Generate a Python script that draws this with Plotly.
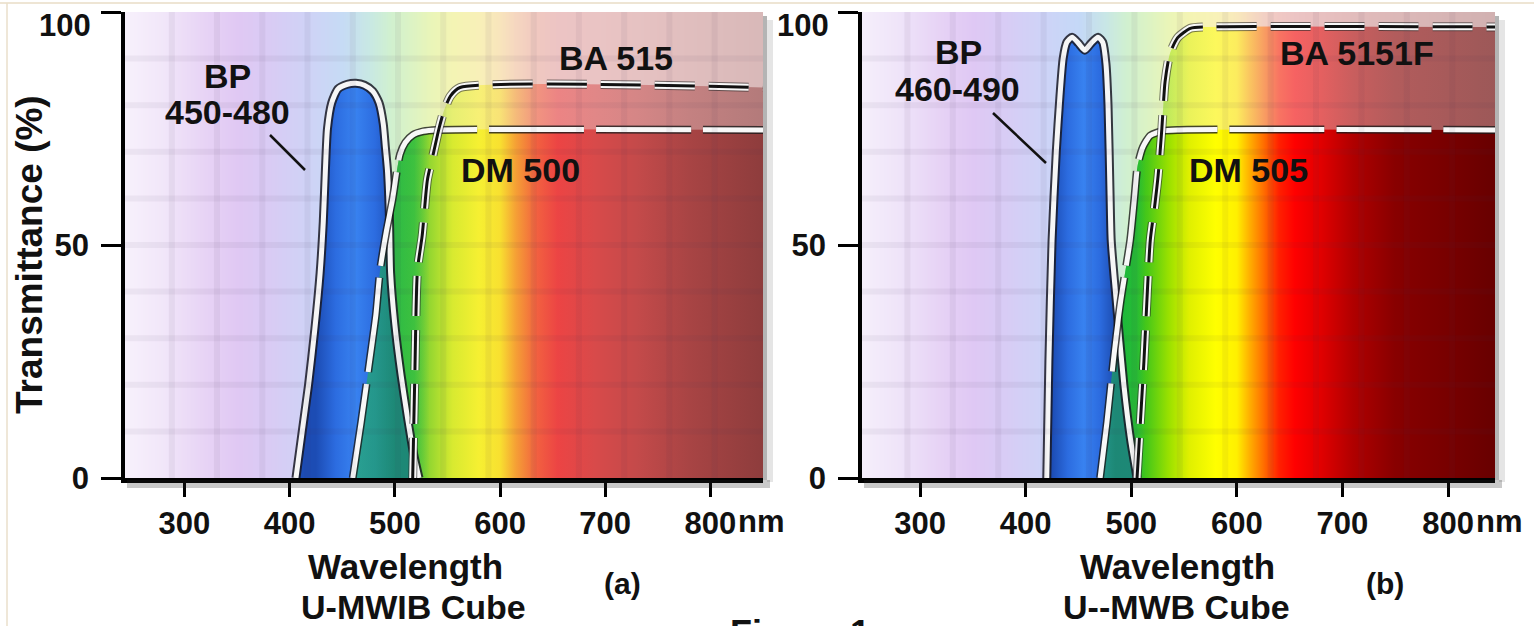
import numpy as np
import plotly.graph_objects as go

W, H = 1534, 626
HEFF = 608  # vertical extent that paper coordinates map onto in the rendered page
FONT = "Arial, Liberation Sans, sans-serif"

# ---------------- data ----------------
# Panel (a) U-MWIB cube
bp_a_nm = [406, 412, 418, 424, 429, 432, 434, 436, 440, 446, 455, 463, 471, 479, 485, 489, 491, 493, 495, 496, 500, 506, 512, 518, 523]
bp_a_t = [0, 10, 20, 32, 44, 55, 66, 75, 80.5, 83.5, 84.5, 84.7, 84.3, 83, 80.5, 76, 71, 66, 55, 44, 33, 22, 13, 5, 0]
dm_a_nm = [460, 468, 476, 482, 486, 492, 498, 502, 505, 510, 517, 527, 540, 850]
dm_a_t = [0, 12, 25, 35, 44.6, 53, 60, 66, 69.5, 72, 73.6, 74.4, 74.7, 74.7]
ba_a_nm = [517, 519, 521.5, 526, 531, 537, 542, 547, 553, 562, 850]
ba_a_t = [0, 22, 44.6, 52, 64, 70, 75, 79, 82, 83.8, 83.8]

# Panel (b) U-MWB cube
bp_b_nm = [420, 422, 425, 429, 432.5, 435.5, 439, 444, 450, 456, 462, 468.5, 473, 476, 478, 480, 481, 485, 493, 499.5, 505.5]
bp_b_t = [0, 25, 51, 70, 82, 90, 93.5, 94.6, 93.3, 91.8, 93.3, 94.6, 93.5, 89, 80, 60, 51, 40, 20, 8, 0]
dm_b_nm = [470.5, 477, 483, 490, 499, 503, 506, 511, 518, 530, 545, 845]
dm_b_t = [0, 12, 25, 38, 51, 60, 67, 71, 73.5, 74.5, 74.7, 74.7]
ba_b_nm = [505.5, 512, 518, 522, 525.5, 529, 532, 536.5, 544, 556, 570, 845]
ba_b_t = [0, 25, 51, 58, 65, 75, 85, 91, 94.5, 96.5, 96.8, 96.8]

x_ticks = [300, 400, 500, 600, 700, 800]
x_ticktext = ["300", "400", "500", "600", "700", "800"]
y_ticks = [0, 50, 100]

# spectrum colour stops (decoration)
spec_nm_a = [240, 280, 320, 350, 380, 420, 450, 475, 495, 515, 535, 555, 580, 600, 615, 635, 655, 690, 730, 780, 855]
pale_a = ["#f8f2fc", "#f1e6f9", "#e7d3f5", "#e0c8f3", "#d9cbf4", "#ced3f6", "#c6dbf5", "#c8e8e4", "#d0f0d0",
          "#dcf3c4", "#eaf5b8", "#f4f4b4", "#f8f0b8", "#f8e4bc", "#f5d6c0", "#f0c8c0", "#ecc4c4", "#eac4c4",
          "#e6c2c2", "#e0bebe", "#d8b8b8"]
sat_a = ["#c8b0e8", "#b898e0", "#9a80d8", "#8070d0", "#6060d0", "#4050d0", "#2090c0", "#20a890", "#38b848",
         "#5cc838", "#9ad830", "#d8ea30", "#f6f032", "#f8e030", "#f5a035", "#f26040", "#ec4444", "#d84a4a",
         "#c44a4a", "#a84444", "#8c3c3c"]
spec_nm_b = [240, 280, 320, 350, 380, 420, 450, 475, 495, 515, 535, 555, 580, 600, 612, 625, 640, 655, 680, 710, 750, 800, 855]
pale_b = ["#f6f0fb", "#efe4f9", "#e6d2f5", "#dfc8f4", "#d8ccf5", "#cdd4f7", "#c4d8f7", "#c8e6e6", "#d0f0d0",
          "#dcf3c4", "#eaf5b8", "#f4f4b4", "#f8f2b8", "#f8e8bc", "#f6dcc0", "#f2d0c4", "#f0c8c4", "#ecc4c4",
          "#e8c0c0", "#e2bcbc", "#dcb8b8", "#d6b4b4", "#d0b0b0"]
sat_b = ["#c8b0e8", "#b898e0", "#9a80d8", "#8070d0", "#6060d0", "#4050d0", "#1890c0", "#18a860", "#20b828",
         "#48c818", "#98e000", "#e0f000", "#ffff00", "#fff000", "#ffb000", "#ff7000", "#ff2000", "#ff0000",
         "#e00000", "#b00000", "#880000", "#780000", "#640000"]


def rgb(h):
    h = h.lstrip("#")
    return [int(h[i:i + 2], 16) for i in (0, 2, 4)]


def blend(c1, c2, t):
    a, b = rgb(c1), rgb(c2)
    return "rgb(%d,%d,%d)" % tuple(round(a[i] * (1 - t) + b[i] * t) for i in range(3))


def cscale(nms, cols):
    lo, hi = nms[0], nms[-1]
    return [[(n - lo) / (hi - lo), c] for n, c in zip(nms, cols)]


def px2x(px):
    return px / W


def px2y(py):
    return 1 - py / HEFF


fig = go.Figure()

panels = [
    dict(xa="x", ya="y", nm=spec_nm_a, pale=pale_a, sat=sat_a, rng=[243.5, 850],
         bp=(bp_a_nm, bp_a_t), dm=(dm_a_nm, dm_a_t), ba=(ba_a_nm, ba_a_t), green_end=533,
         bpgrad=(425, 500)),
    dict(xa="x2", ya="y2", nm=spec_nm_b, pale=pale_b, sat=sat_b, rng=[245, 844.5],
         bp=(bp_b_nm, bp_b_t), dm=(dm_b_nm, dm_b_t), ba=(ba_b_nm, ba_b_t), green_end=514,
         bpgrad=(425, 485)),
]

shapes = []
SPL = dict(shape="spline", smoothing=0.6)
for p in panels:
    nms = p["nm"]
    lo, hi = nms[0], nms[-1]
    mid = [blend(a, b, 0.5) for a, b in zip(p["pale"], p["sat"])]
    xs = np.linspace(lo, hi, 500)
    fig.add_trace(go.Heatmap(x=xs, y=[0, 100], z=[xs, xs], zmin=lo, zmax=hi, zsmooth="best",
                             colorscale=cscale(nms, p["pale"]), showscale=False, hoverinfo="skip",
                             xaxis=p["xa"], yaxis=p["ya"]))
    common = dict(mode="lines", line=dict(width=0, **SPL), fill="tozeroy",
                  hoverinfo="skip", showlegend=False, xaxis=p["xa"], yaxis=p["ya"])
    # BA fill (medium saturation)
    fig.add_trace(go.Scatter(x=p["ba"][0], y=p["ba"][1],
                             fillgradient=dict(type="horizontal", colorscale=cscale(nms, mid), start=lo, stop=hi),
                             **common))
    # DM fill (saturated)
    fig.add_trace(go.Scatter(x=p["dm"][0], y=p["dm"][1],
                             fillgradient=dict(type="horizontal", colorscale=cscale(nms, p["sat"]), start=lo, stop=hi),
                             **common))
    # BP fill (blue)
    g0, g1 = p["bpgrad"]
    fig.add_trace(go.Scatter(x=p["bp"][0], y=p["bp"][1],
                             fillgradient=dict(type="horizontal",
                                               colorscale=[[0, "#1c4cb4"], [0.25, "#2c6ce0"], [0.5, "#3882f0"],
                                                           [0.75, "#2c6ce0"], [1, "#1c4cb0"]],
                                               start=g0, stop=g1),
                             **common))
    # green veil over BP/DM overlap -> teal
    fig.add_trace(go.Scatter(x=p["dm"][0], y=p["dm"][1],
                             fillgradient=dict(type="horizontal",
                                               colorscale=[[0, "rgba(30,185,70,0.55)"], [0.8, "rgba(30,185,70,0.55)"],
                                                           [1, "rgba(30,185,70,0)"]],
                                               start=p["dm"][0][0], stop=p["green_end"]),
                             **common))
    lc = dict(mode="lines", hoverinfo="skip", showlegend=False, xaxis=p["xa"], yaxis=p["ya"])
    # BP outline
    fig.add_trace(go.Scatter(x=p["bp"][0], y=p["bp"][1],
                             line=dict(color="rgba(25,25,35,0.85)", width=9, **SPL), **lc))
    fig.add_trace(go.Scatter(x=p["bp"][0], y=p["bp"][1],
                             line=dict(color="#f6f6f6", width=5, **SPL), **lc))
    # DM outline (white dashes)
    fig.add_trace(go.Scatter(x=p["dm"][0], y=p["dm"][1],
                             line=dict(color="rgba(25,25,25,0.8)", width=8, dash="95px,12px", **SPL), **lc))
    fig.add_trace(go.Scatter(x=p["dm"][0], y=p["dm"][1],
                             line=dict(color="#f8f8f8", width=5, dash="95px,12px", **SPL), **lc))
    # BA outline (black dashes on white)
    fig.add_trace(go.Scatter(x=p["ba"][0], y=p["ba"][1],
                             line=dict(color="rgba(40,40,40,0.6)", width=9, dash="40px,14px", **SPL), **lc))
    fig.add_trace(go.Scatter(x=p["ba"][0], y=p["ba"][1],
                             line=dict(color="#f8f8f8", width=7, dash="40px,14px", **SPL), **lc))
    fig.add_trace(go.Scatter(x=p["ba"][0], y=p["ba"][1],
                             line=dict(color="#111111", width=3, dash="40px,14px", **SPL), **lc))
    # faint grid
    for gy in range(10, 100, 10):
        shapes.append(dict(type="line", xref=p["xa"], yref=p["ya"], x0=p["rng"][0], x1=p["rng"][1], y0=gy, y1=gy,
                           line=dict(color="rgba(70,50,90,0.06)", width=6), layer="above"))
    gx = 288
    while gx < p["rng"][1] - 5:
        shapes.append(dict(type="line", xref=p["xa"], yref=p["ya"], x0=gx, x1=gx, y0=0, y1=100,
                           line=dict(color="rgba(70,50,90,0.06)", width=6), layer="above"))
        gx += 43

axis_font = dict(family=FONT, size=31, color="#111111", weight="bold")
xcommon = dict(tickvals=x_ticks, ticktext=x_ticktext, ticks="outside", ticklen=14, tickwidth=3, tickcolor="#000",
               showline=True, linewidth=5, linecolor="#000", showgrid=False, zeroline=False, tickfont=axis_font,
               ticklabelstandoff=0, fixedrange=True)
ycommon = dict(range=[0, 100], tickvals=y_ticks, ticktext=["0", "50", ""], ticks="outside", ticklen=20, tickwidth=3,
               tickcolor="#000", showline=True, linewidth=3.5, linecolor="#000", showgrid=False, zeroline=False,
               tickfont=axis_font, ticklabelstandoff=6, domain=[px2y(478), px2y(12)], fixedrange=True)

ann = []


def text(t, px, py, size, xanchor="center", yanchor="middle", angle=0):
    ann.append(dict(text=t, x=px2x(px), y=px2y(py), xref="paper", yref="paper", showarrow=False,
                    xanchor=xanchor, yanchor=yanchor, textangle=angle,
                    font=dict(family=FONT, size=size, color="#111111", weight="bold")))


text("Transmittance (%)", 30, 255, 37, angle=-90)
text("100", 93, 26, 31, xanchor="right")
text("100", 831, 26, 31, xanchor="right")
text("nm", 736, 521, 31, xanchor="left")
text("nm", 1474, 521, 31, xanchor="left")
text("Wavelength", 406, 566, 35)
text("U-MWIB Cube", 414, 607, 34)
text("(a)", 622, 583, 30)
text("Wavelength", 1177, 566, 35)
text("U--MWB Cube", 1176, 607, 34)
text("(b)", 1385, 583, 30)
text("Figure 1", 800, 611, 36, yanchor="top")
text("BP", 228, 76, 34)
text("450-480", 227, 112, 34)
text("BA 515", 616, 58, 34)
text("DM 500", 520, 170, 34)
text("BP", 958, 52, 34)
text("460-490", 957, 89, 34)
text("BA 5151F", 1357, 53, 34)
text("DM 505", 1248, 170, 34)

# leader lines
for (x0, y0, x1, y1) in [(270, 135, 305, 170), (993, 113, 1046, 163)]:
    shapes.append(dict(type="line", xref="paper", yref="paper", x0=px2x(x0), y0=px2y(y0), x1=px2x(x1), y1=px2y(y1),
                       line=dict(color="#111", width=2.5)))
# panel shadows
for (r0, r1) in [(763, 773), (1495, 1505)]:
    shapes.append(dict(type="rect", xref="paper", yref="paper", x0=px2x(r0), x1=px2x(r0 + 4), y0=px2y(480),
                       y1=px2y(16), line=dict(width=0), fillcolor="rgba(40,40,40,0.35)"))
    shapes.append(dict(type="rect", xref="paper", yref="paper", x0=px2x(r0 + 4), x1=px2x(r1), y0=px2y(482),
                       y1=px2y(20), line=dict(width=0), fillcolor="rgba(40,40,40,0.12)"))
for (a0, a1) in [(127, 770), (864, 1502)]:
    shapes.append(dict(type="rect", xref="paper", yref="paper", x0=px2x(a0), x1=px2x(a1), y0=px2y(488),
                       y1=px2y(480), line=dict(width=0), fillcolor="rgba(40,40,40,0.25)"))
# thin beige frame of the original picture
shapes.append(dict(type="line", xref="paper", yref="paper", x0=0, x1=1, y0=px2y(3), y1=px2y(3),
                   line=dict(color="#e8dcc6", width=1.5)))
shapes.append(dict(type="line", xref="paper", yref="paper", x0=px2x(7), x1=px2x(7), y0=px2y(626), y1=px2y(3),
                   line=dict(color="#eadfcb", width=1.5)))

fig.update_layout(
    width=W, height=H, margin=dict(l=0, r=0, t=0, b=0), paper_bgcolor="white", plot_bgcolor="white",
    showlegend=False,
    xaxis=dict(domain=[px2x(125), px2x(763)], range=panels[0]["rng"], anchor="y", **xcommon),
    yaxis=dict(anchor="x", **ycommon),
    xaxis2=dict(domain=[px2x(862), px2x(1495)], range=panels[1]["rng"], anchor="y2", **xcommon),
    yaxis2=dict(anchor="x2", **ycommon),
    annotations=ann, shapes=shapes,
)

fig.write_html("out.html")
